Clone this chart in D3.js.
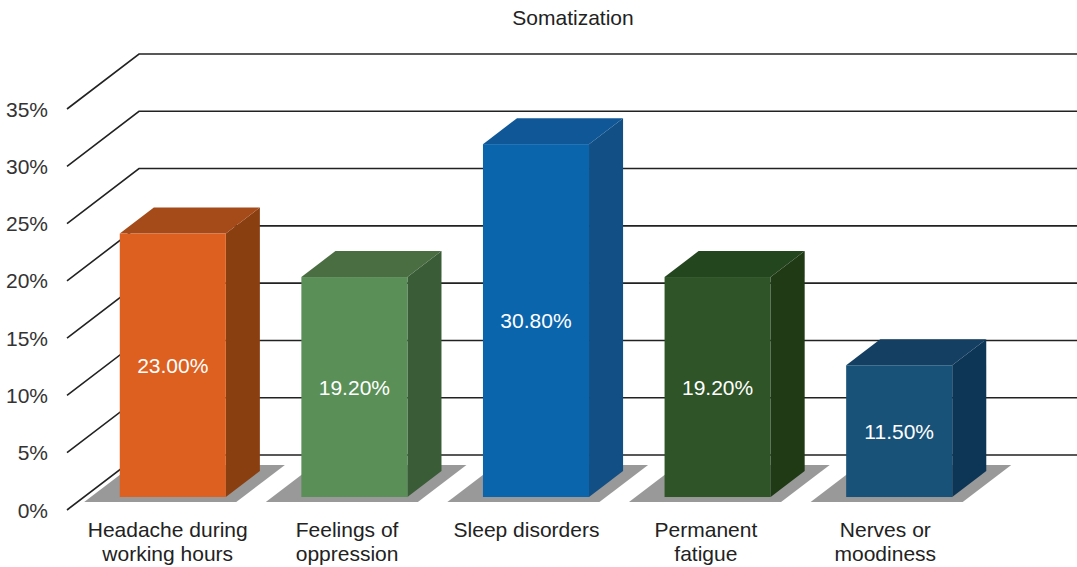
<!DOCTYPE html>
<html>
<head>
<meta charset="utf-8">
<script src="https://cdn.jsdelivr.net/npm/d3@7"></script>
<style>
  html, body { margin: 0; padding: 0; background: #fff; }
  svg text { font-family: Helvetica, Arial, "Liberation Sans", sans-serif; }
</style>
</head>
<body>
<div id="chart"></div>
<script>
// chart data
const categories = ["Headache during working hours", "Feelings of oppression", "Sleep disorders", "Permanent fatigue", "Nerves or moodiness"];
const categoryLines = [["Headache during", "working hours"], ["Feelings of", "oppression"], ["Sleep disorders"], ["Permanent", "fatigue"], ["Nerves or", "moodiness"]];
const values = [23.0, 19.2, 30.8, 19.2, 11.5];
const yTicks = [0, 5, 10, 15, 20, 25, 30, 35];
const frontColors = ["#dd6020", "#5a8f58", "#0b65ad", "#2e5428", "#195279"];
const topColors = ["#a54a19", "#4a6e42", "#105798", "#24461f", "#143f62"];
const sideColors = ["#8a3f10", "#3a5c37", "#124f85", "#1f3a15", "#0d3656"];

const width = 1077, height = 567;
// depth projection: going from front (d=0) to back wall (d=1)
const DX = 72, DY = 55;
const plotLeft = 67;

const svg = d3.select("#chart").append("svg")
    .attr("width", width)
    .attr("height", height);

const y = d3.scaleLinear().domain([0, 35]).range([510, 109]);
const x = d3.scaleBand()
    .domain(categories)
    .range([65, 973])
    .paddingInner(0.416)
    .paddingOuter(0.208);
// category labels sit on a slightly narrower band than the bars
const xLabel = d3.scaleBand()
    .domain(categories)
    .range([78, 975]);

function proj(px, v, d) {
    return [px + DX * d, y(v) - DY * d];
}

// gridlines: short diagonal on the floor side, then along the back wall
const grid = svg.append("g");
yTicks.forEach(t => {
    const p0 = proj(plotLeft, t, 0);
    const p1 = proj(plotLeft, t, 1);
    grid.append("path")
        .attr("d", d3.line()([p0, p1, [width, p1[1]]]))
        .attr("fill", "none")
        .attr("stroke", "#222")
        .attr("stroke-width", 1.6);
    svg.append("text")
        .attr("x", 48)
        .attr("y", y(t))
        .attr("dy", "0.36em")
        .attr("text-anchor", "end")
        .attr("font-size", 21)
        .attr("fill", "#333")
        .text(t + "%");
});

// bar geometry in depth units
const dFront = 0.236, dBack = 0.709;
const shFront = 0.145, shBack = 0.82;
const bw = x.bandwidth();

// floor shadows
categories.forEach((c, i) => {
    const bx = x(c);
    const pts = [
        proj(bx - 29, 0, shFront),
        proj(bx + bw + 17, 0, shFront),
        proj(bx + bw + 17, 0, shBack),
        proj(bx - 29, 0, shBack)
    ];
    svg.append("polygon")
        .attr("points", pts.map(p => p.join(",")).join(" "))
        .attr("fill", "#999");
});

const bars = svg.append("g");
categories.forEach((c, i) => {
    const bx = x(c), v = values[i];
    const fl = proj(bx, v, dFront), fr = proj(bx + bw, v, dFront);
    const bl = proj(bx, v, dBack), br = proj(bx + bw, v, dBack);
    const frb = proj(bx + bw, 0, dFront), brb = proj(bx + bw, 0, dBack);
    const flb = proj(bx, 0, dFront);

    bars.append("polygon")
        .attr("points", [fr, br, brb, frb].map(p => p.join(",")).join(" "))
        .attr("fill", sideColors[i]);
    bars.append("polygon")
        .attr("points", [fl, fr, br, bl].map(p => p.join(",")).join(" "))
        .attr("fill", topColors[i]);
    bars.append("rect")
        .attr("x", fl[0])
        .attr("y", fl[1])
        .attr("width", bw)
        .attr("height", flb[1] - fl[1])
        .attr("fill", frontColors[i]);

    bars.append("text")
        .attr("x", fl[0] + bw / 2)
        .attr("y", (fl[1] + flb[1]) / 2)
        .attr("dy", "0.36em")
        .attr("text-anchor", "middle")
        .attr("font-size", 21)
        .attr("fill", "#fff")
        .text(v.toFixed(2) + "%");

    // category label
    const lc = xLabel(c) + xLabel.bandwidth() / 2;
    const lab = svg.append("text")
        .attr("text-anchor", "middle")
        .attr("font-size", 21)
        .attr("fill", "#222");
    categoryLines[i].forEach((ln, k) => {
        lab.append("tspan")
            .attr("x", lc)
            .attr("y", 537 + k * 24)
            .text(ln);
    });
});

svg.append("text")
    .attr("x", 573)
    .attr("y", 25)
    .attr("text-anchor", "middle")
    .attr("font-size", 21)
    .attr("fill", "#222")
    .text("Somatization");
</script>
</body>
</html>
